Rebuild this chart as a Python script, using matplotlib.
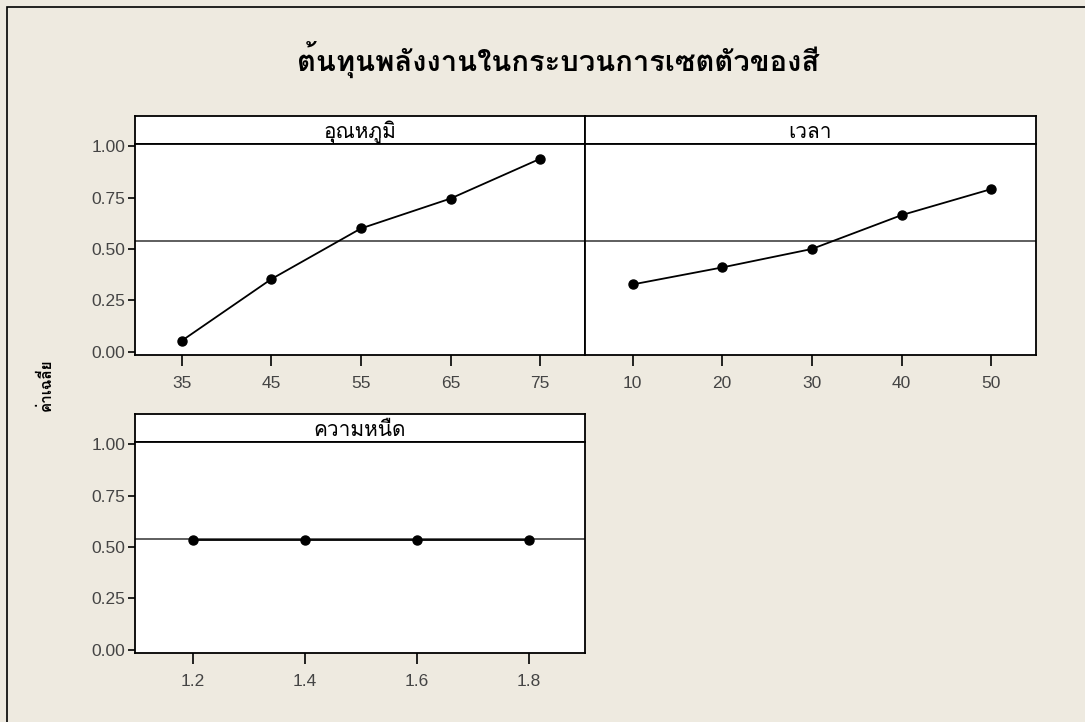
import matplotlib
matplotlib.use("Agg")
import matplotlib.pyplot as plt
from matplotlib.patches import Rectangle

# main effects data (mean response at each factor level)
temp_levels = [35, 45, 55, 65, 75]
temp_means = [0.052, 0.353, 0.600, 0.746, 0.940]
time_levels = [10, 20, 30, 40, 50]
time_means = [0.327, 0.410, 0.500, 0.665, 0.792]
visc_levels = [1.2, 1.4, 1.6, 1.8]
visc_means = [0.535, 0.535, 0.535, 0.535]
grand_mean = 0.54

panel_names = ["อุณหภูมิ", "เวลา", "ความหนืด"]
title = "ต้นทุนพลังงานในกระบวนการเซตตัวของสี"
ylabel = "ค่าเฉลี่ย"
yticks = [0.00, 0.25, 0.50, 0.75, 1.00]

thai = ["Loma", "Noto Sans Thai Looped", "DejaVu Sans"]
plt.rcParams["font.family"] = ["Liberation Sans", "DejaVu Sans"]
bg = "#eeeae0"
W, H = 1085, 722

fig = plt.figure(figsize=(W / 100, H / 100), dpi=100, facecolor=bg)
fig.patches.append(Rectangle((7 / W, -0.1), 1.2, 1.1 - 7 / H, transform=fig.transFigure,
                             fill=False, edgecolor="black", lw=1.2))


def box(x0, y0, x1, y1):
    # pixel box -> figure fraction rect
    return [x0 / W, 1 - y1 / H, (x1 - x0) / W, (y1 - y0) / H]


def panel(px, top, levels, means, xlim, name, show_y=True, fmt="{:g}"):
    strip = fig.add_axes(box(px[0], top, px[1], top + 28))
    strip.set_xticks([])
    strip.set_yticks([])
    for s in strip.spines.values():
        s.set_linewidth(1.3)
    strip.text(0.5, 0.42, name, ha="center", va="center", fontsize=15,
               family=thai, transform=strip.transAxes)

    ax = fig.add_axes(box(px[0], top + 28, px[1], top + 239))
    ax.plot(levels, means, color="black", lw=1.3, marker="o", ms=6.5, zorder=3)
    ax.axhline(grand_mean, color="#333333", lw=1.1, zorder=2)
    ax.set_xlim(*xlim)
    ax.set_ylim(-0.017, 1.012)
    ax.set_xticks(levels)
    ax.set_xticklabels([fmt.format(v) for v in levels])
    ax.set_yticks(yticks)
    ax.set_yticklabels(["%.2f" % v for v in yticks])
    ax.tick_params(axis="x", length=8, width=1.2, pad=7, labelsize=12.5, labelcolor="#444444")
    ax.tick_params(axis="y", length=5, width=1.2, pad=2, labelsize=12.5, labelcolor="#444444")
    if not show_y:
        ax.tick_params(axis="y", left=False, labelleft=False)
    for s in ax.spines.values():
        s.set_linewidth(1.3)
    return ax


panel((135, 585), 116, temp_levels, temp_means, (29.8, 80.0), panel_names[0])
panel((585, 1036), 116, time_levels, time_means, (4.7, 55.0), panel_names[1], show_y=False)
panel((135, 585), 414, visc_levels, visc_means, (1.097, 1.9), panel_names[2], fmt="{:.1f}")

fig.text(558 / W, 1 - 60 / H, title, ha="center", va="center", fontsize=21,
         fontweight="bold", family=thai)
fig.text(46 / W, 1 - 385 / H, ylabel, ha="center", va="center", rotation=90,
         fontsize=11, fontweight="bold", family=thai)

fig.savefig("out.png", dpi=100, facecolor=bg)
